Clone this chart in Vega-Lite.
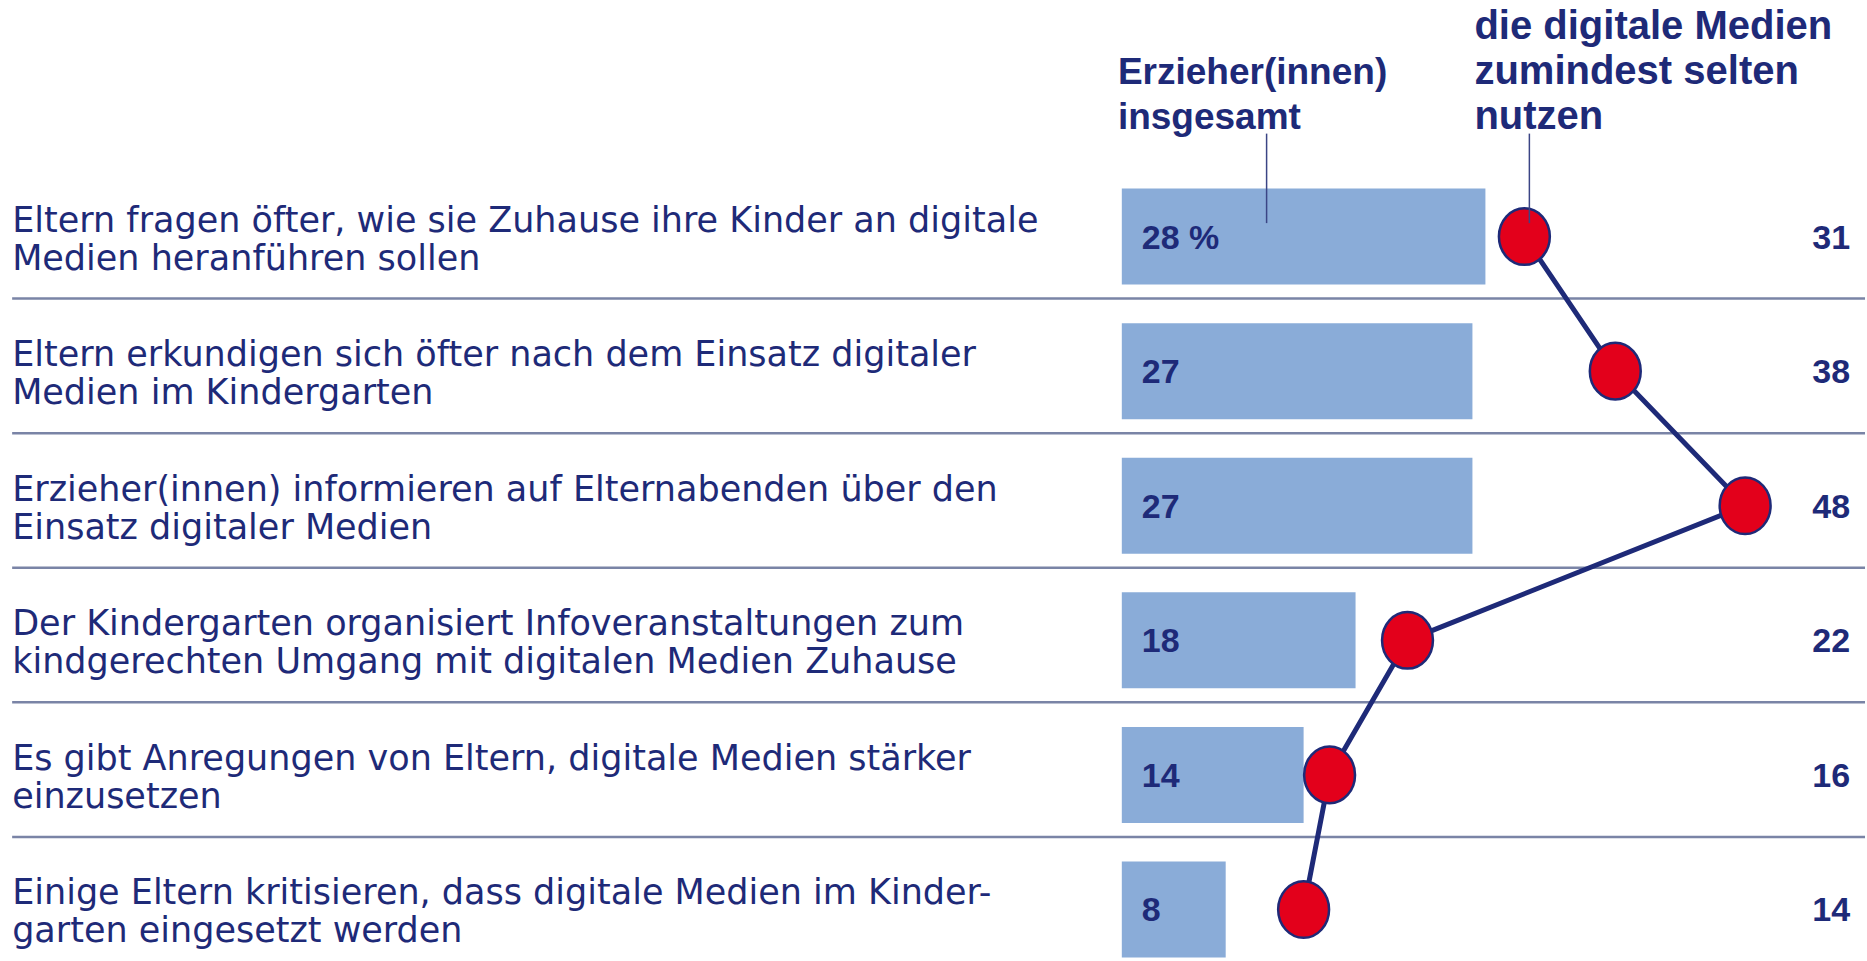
{
  "$schema": "https://vega.github.io/schema/vega-lite/v6.json",
  "width": 1867,
  "height": 961,
  "autosize": {"type": "fit", "contains": "padding"},
  "padding": 0,
  "background": "white",
  "view": {"stroke": null},
  "config": {"font": "Liberation Sans"},
  "data": {
    "values": [
      {"row": 1, "label": "Eltern fragen öfter, wie sie Zuhause ihre Kinder an digitale\nMedien heranführen sollen", "gesamt": 28, "gesamtLabel": "28 %", "nutzer": 31},
      {"row": 2, "label": "Eltern erkundigen sich öfter nach dem Einsatz digitaler\nMedien im Kindergarten", "gesamt": 27, "gesamtLabel": "27", "nutzer": 38},
      {"row": 3, "label": "Erzieher(innen) informieren auf Elternabenden über den\nEinsatz digitaler Medien", "gesamt": 27, "gesamtLabel": "27", "nutzer": 48},
      {"row": 4, "label": "Der Kindergarten organisiert Infoveranstaltungen zum\nkindgerechten Umgang mit digitalen Medien Zuhause", "gesamt": 18, "gesamtLabel": "18", "nutzer": 22},
      {"row": 5, "label": "Es gibt Anregungen von Eltern, digitale Medien stärker\neinzusetzen", "gesamt": 14, "gesamtLabel": "14", "nutzer": 16},
      {"row": 6, "label": "Einige Eltern kritisieren, dass digitale Medien im Kinder-\ngarten eingesetzt werden", "gesamt": 8, "gesamtLabel": "8", "nutzer": 14}
    ]
  },
  "layer": [
    {
      "transform": [{"filter": "datum.row <= 5"}],
      "mark": {"type": "rule", "color": "#7a84a6", "strokeWidth": 2.5, "yOffset": 62},
      "encoding": {
        "x": {"datum": -85.45, "type": "quantitative", "scale": {"domain": [-86.385, 57.23], "nice": false, "zero": false}, "axis": null},
        "x2": {"datum": 57.23},
        "y": {"field": "row", "type": "quantitative", "scale": {"domain": [-0.7206, 6.3456], "reverse": true, "nice": false, "zero": false}, "axis": null}
      }
    },
    {
      "mark": {"type": "bar", "orient": "horizontal", "size": 96, "color": "#8aacd8"},
      "encoding": {
        "x": {"field": "gesamt", "type": "quantitative", "scale": {"domain": [-86.385, 57.23], "nice": false, "zero": false}, "axis": null},
        "x2": {"datum": 0},
        "y": {"field": "row", "type": "quantitative", "scale": {"domain": [-0.7206, 6.3456], "reverse": true, "nice": false, "zero": false}, "axis": null}
      }
    },
    {
      "mark": {"type": "text", "align": "left", "baseline": "middle", "fontSize": 34, "fontWeight": "bold", "color": "#1e2a78", "dy": 2},
      "encoding": {
        "x": {"datum": 1.54, "type": "quantitative", "scale": {"domain": [-86.385, 57.23], "nice": false, "zero": false}, "axis": null},
        "y": {"field": "row", "type": "quantitative", "scale": {"domain": [-0.7206, 6.3456], "reverse": true, "nice": false, "zero": false}, "axis": null},
        "text": {"field": "gesamtLabel", "type": "nominal"}
      }
    },
    {
      "mark": {"type": "line", "color": "#1e2a78", "strokeWidth": 5},
      "encoding": {
        "x": {"field": "nutzer", "type": "quantitative", "scale": {"domain": [-86.385, 57.23], "nice": false, "zero": false}, "axis": null},
        "y": {"field": "row", "type": "quantitative", "scale": {"domain": [-0.7206, 6.3456], "reverse": true, "nice": false, "zero": false}, "axis": null},
        "order": {"field": "row", "type": "quantitative"}
      }
    },
    {
      "mark": {"type": "point", "shape": "M0,-1A0.9,1,0,1,1,0,1A0.9,1,0,1,1,0,-1Z", "filled": true, "fill": "#e3001b", "stroke": "#1e2a78", "strokeWidth": 2.5, "size": 3200, "opacity": 1},
      "encoding": {
        "x": {"field": "nutzer", "type": "quantitative", "scale": {"domain": [-86.385, 57.23], "nice": false, "zero": false}, "axis": null},
        "y": {"field": "row", "type": "quantitative", "scale": {"domain": [-0.7206, 6.3456], "reverse": true, "nice": false, "zero": false}, "axis": null}
      }
    },
    {
      "mark": {"type": "text", "align": "right", "baseline": "middle", "fontSize": 34, "fontWeight": "bold", "color": "#1e2a78", "dy": 2},
      "encoding": {
        "x": {"datum": 56.08, "type": "quantitative", "scale": {"domain": [-86.385, 57.23], "nice": false, "zero": false}, "axis": null},
        "y": {"field": "row", "type": "quantitative", "scale": {"domain": [-0.7206, 6.3456], "reverse": true, "nice": false, "zero": false}, "axis": null},
        "text": {"field": "nutzer", "type": "quantitative"}
      }
    },
    {
      "mark": {"type": "text", "align": "left", "baseline": "middle", "font": "DejaVu Sans", "fontSize": 35, "lineHeight": 38, "lineBreak": "\n", "color": "#1e2a78", "dy": -16},
      "encoding": {
        "x": {"datum": -85.45, "type": "quantitative", "scale": {"domain": [-86.385, 57.23], "nice": false, "zero": false}, "axis": null},
        "y": {"field": "row", "type": "quantitative", "scale": {"domain": [-0.7206, 6.3456], "reverse": true, "nice": false, "zero": false}, "axis": null},
        "text": {"field": "label", "type": "nominal"}
      }
    },
    {
      "data": {"values": [{"t": "leader"}]},
      "mark": {"type": "rule", "color": "#3b4585", "strokeWidth": 1.5},
      "encoding": {
        "x": {"datum": 11.15, "type": "quantitative", "scale": {"domain": [-86.385, 57.23], "nice": false, "zero": false}, "axis": null},
        "y": {"datum": 0.235, "type": "quantitative", "scale": {"domain": [-0.7206, 6.3456], "reverse": true, "nice": false, "zero": false}, "axis": null},
        "y2": {"datum": 0.9}
      }
    },
    {
      "transform": [{"filter": "datum.row == 1"}],
      "mark": {"type": "rule", "color": "#3b4585", "strokeWidth": 1.5, "xOffset": 5},
      "encoding": {
        "x": {"field": "nutzer", "type": "quantitative", "scale": {"domain": [-86.385, 57.23], "nice": false, "zero": false}, "axis": null},
        "y": {"datum": 0.235, "type": "quantitative", "scale": {"domain": [-0.7206, 6.3456], "reverse": true, "nice": false, "zero": false}, "axis": null},
        "y2": {"datum": 0.9}
      }
    },
    {
      "data": {"values": [{"t": "Erzieher(innen)\ninsgesamt"}]},
      "mark": {"type": "text", "align": "left", "baseline": "middle", "fontSize": 37, "fontWeight": "bold", "lineHeight": 45, "lineBreak": "\n", "color": "#1e2a78"},
      "encoding": {
        "x": {"datum": -0.3, "type": "quantitative", "scale": {"domain": [-86.385, 57.23], "nice": false, "zero": false}, "axis": null},
        "y": {"datum": -0.215, "type": "quantitative", "scale": {"domain": [-0.7206, 6.3456], "reverse": true, "nice": false, "zero": false}, "axis": null},
        "text": {"field": "t", "type": "nominal"}
      }
    },
    {
      "data": {"values": [{"t": "die digitale Medien\nzumindest selten\nnutzen"}]},
      "mark": {"type": "text", "align": "left", "baseline": "middle", "fontSize": 40, "fontWeight": "bold", "lineHeight": 45, "lineBreak": "\n", "color": "#1e2a78"},
      "encoding": {
        "x": {"datum": 27.15, "type": "quantitative", "scale": {"domain": [-86.385, 57.23], "nice": false, "zero": false}, "axis": null},
        "y": {"datum": -0.555, "type": "quantitative", "scale": {"domain": [-0.7206, 6.3456], "reverse": true, "nice": false, "zero": false}, "axis": null},
        "text": {"field": "t", "type": "nominal"}
      }
    }
  ]
}
